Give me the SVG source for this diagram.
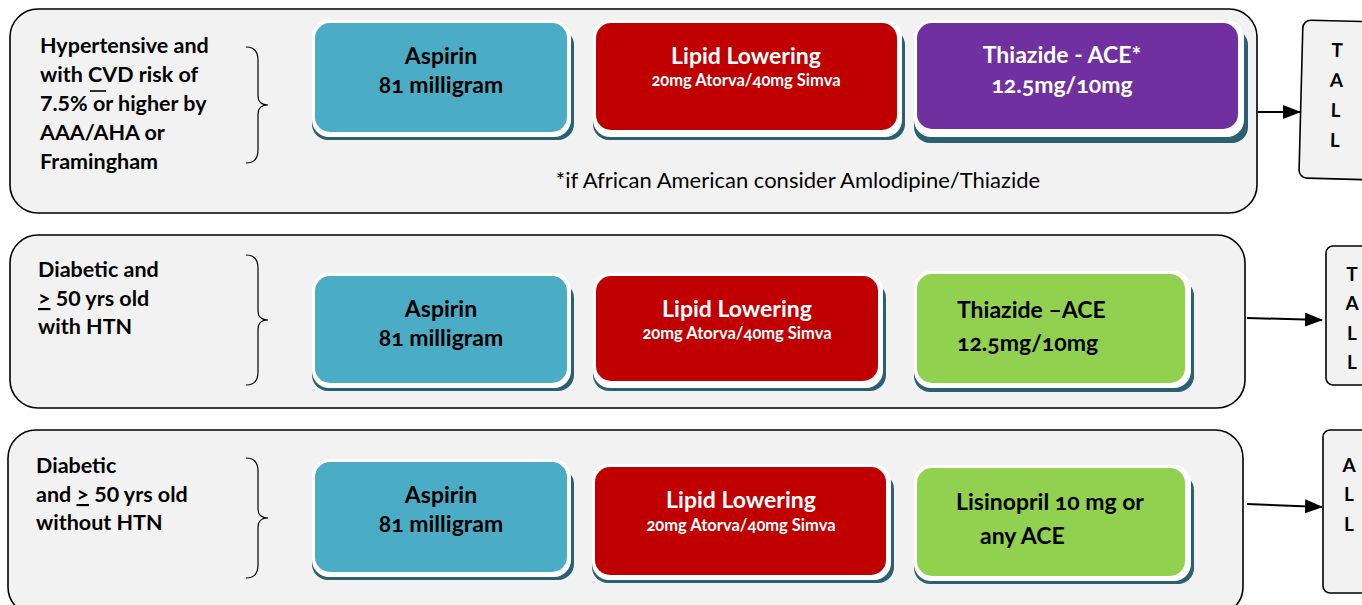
<svg xmlns="http://www.w3.org/2000/svg" width="1362" height="605" viewBox="0 0 1362 605">
<defs>
<style>
.panel{fill:#f2f2f2;stroke:#000;stroke-width:1.6}
.tall{fill:#f2f2f2;stroke:#000;stroke-width:1.6}
.sh{fill:#2b6072}
.wh{fill:#ffffff}
.asp{fill:#4bacc6}
.lip{fill:#c00000}
.pur{fill:#7030a0}
.grn{fill:#92d050}
.lbl{font-family:Lato,"Open Sans",sans-serif;font-weight:bold;font-size:21.5px;fill:#000}
.bt{font-family:Lato,"Open Sans",sans-serif;font-weight:bold;font-size:23px;font-variant-numeric:oldstyle-nums}
.sub{font-family:Lato,"Open Sans",sans-serif;font-weight:bold;font-size:16.5px;fill:#fff;font-variant-numeric:oldstyle-nums}
.wt{fill:#fff}
.bk{fill:#000}
.note{font-family:Lato,"Open Sans",sans-serif;font-size:22px;fill:#000}
.tl{font-family:Lato,"Open Sans",sans-serif;font-weight:bold;font-size:19px;fill:#000}
.brace{fill:none;stroke:#000;stroke-width:1.2}
.conn{fill:none;stroke:#000;stroke-width:2}
</style>
<marker id="ah2" markerWidth="18" markerHeight="14" refX="17" refY="7" orient="auto" markerUnits="userSpaceOnUse" viewBox="0 0 18 14">
<path d="M0,0 L18,7 L0,14 z" fill="#000"/>
</marker>
</defs>

<!-- Row 1 -->
<g id="row1">
<rect class="panel" x="10" y="9" width="1247" height="204" rx="28"/>
<g id="label1" class="lbl">
<text x="40" y="53">Hypertensive and</text>
<text x="40" y="82">with CVD risk of</text>
<text x="40" y="111">7.5% or higher by</text>
<text x="40" y="140">AAA/AHA or</text>
<text x="40" y="169">Framingham</text>
<line x1="90" y1="91" x2="106" y2="91" stroke="#000" stroke-width="1.6"/>
</g>
<path class="brace" d="M246,47 Q258,47 258,60 L258,96 Q258,105 268,105 Q258,105 258,114 L258,150 Q258,163 246,163"/>
<g id="asp1">
<rect class="sh" x="312" y="29" width="262" height="111" rx="16"/>
<rect class="wh" x="312" y="20" width="259" height="117" rx="17"/>
<rect class="asp" x="315" y="23" width="252" height="109" rx="15"/>
<text class="bt bk" x="441" y="64" text-anchor="middle">Aspirin</text>
<text class="bt bk" x="441" y="93" text-anchor="middle">81 milligram</text>
</g>
<g id="lip1">
<rect class="sh" x="593" y="29" width="312" height="111" rx="16"/>
<rect class="wh" x="593" y="20" width="309" height="117" rx="17"/>
<rect class="lip" x="596" y="23" width="301" height="107" rx="15"/>
<text class="bt wt" x="746" y="64" text-anchor="middle">Lipid Lowering</text>
<text class="sub" x="746" y="86" text-anchor="middle">20mg Atorva/40mg Simva</text>
</g>
<g id="thz1">
<rect class="sh" x="914" y="29" width="334" height="114" rx="16"/>
<rect class="wh" x="914" y="20" width="330" height="117" rx="17"/>
<rect class="pur" x="917" y="23" width="321" height="106" rx="15"/>
<text class="bt wt" x="1062" y="63" text-anchor="middle">Thiazide - ACE*</text>
<text class="bt wt" x="1062" y="93" text-anchor="middle">12.5mg/10mg</text>
</g>
<text class="note" x="798" y="188" text-anchor="middle">*if African American consider Amlodipine/Thiazide</text>
</g>

<!-- Row 2 -->
<g id="row2">
<rect class="panel" x="10" y="235" width="1235" height="173" rx="28"/>
<g id="label2" class="lbl">
<text x="38" y="277">Diabetic and</text>
<text x="38" y="306"><tspan text-decoration="underline">&gt;</tspan> 50 yrs old</text>
<text x="38" y="334">with HTN</text>
</g>
<path class="brace" d="M246,255 Q258,255 258,268 L258,311 Q258,320 268,320 Q258,320 258,329 L258,372 Q258,385 246,385"/>
<g id="asp2">
<rect class="sh" x="312" y="282" width="262" height="109" rx="16"/>
<rect class="wh" x="312" y="273" width="259" height="115" rx="17"/>
<rect class="asp" x="315" y="276" width="252" height="107" rx="15"/>
<text class="bt bk" x="441" y="317" text-anchor="middle">Aspirin</text>
<text class="bt bk" x="441" y="346" text-anchor="middle">81 milligram</text>
</g>
<g id="lip2">
<rect class="sh" x="593" y="282" width="293" height="109" rx="16"/>
<rect class="wh" x="593" y="273" width="290" height="115" rx="17"/>
<rect class="lip" x="596" y="276" width="282" height="105" rx="15"/>
<text class="bt wt" x="737" y="317" text-anchor="middle">Lipid Lowering</text>
<text class="sub" x="737" y="339" text-anchor="middle">20mg Atorva/40mg Simva</text>
</g>
<g id="thz2">
<rect class="sh" x="914" y="280" width="280" height="112" rx="16"/>
<rect class="wh" x="914" y="271" width="277" height="117" rx="17"/>
<rect class="grn" x="917" y="274" width="268" height="109" rx="15"/>
<text class="bt bk" x="957" y="318">Thiazide –ACE</text>
<text class="bt bk" x="957" y="351">12.5mg/10mg</text>
</g>
</g>

<!-- Row 3 -->
<g id="row3">
<rect class="panel" x="8" y="430" width="1235" height="185" rx="28"/>
<g id="label3" class="lbl">
<text x="36" y="473">Diabetic</text>
<text x="36" y="502">and <tspan text-decoration="underline">&gt;</tspan> 50 yrs old</text>
<text x="36" y="530">without HTN</text>
</g>
<path class="brace" d="M246,458 Q258,458 258,471 L258,509 Q258,518 268,518 Q258,518 258,527 L258,565 Q258,578 246,578"/>
<g id="asp3">
<rect class="sh" x="312" y="468" width="262" height="112" rx="16"/>
<rect class="wh" x="312" y="459" width="259" height="118" rx="17"/>
<rect class="asp" x="315" y="462" width="252" height="110" rx="15"/>
<text class="bt bk" x="441" y="503" text-anchor="middle">Aspirin</text>
<text class="bt bk" x="441" y="532" text-anchor="middle">81 milligram</text>
</g>
<g id="lip3">
<rect class="sh" x="592" y="473" width="302" height="110" rx="16"/>
<rect class="wh" x="592" y="464" width="299" height="116" rx="17"/>
<rect class="lip" x="595" y="467" width="291" height="108" rx="15"/>
<text class="bt wt" x="741" y="508" text-anchor="middle">Lipid Lowering</text>
<text class="sub" x="741" y="531" text-anchor="middle">20mg Atorva/40mg Simva</text>
</g>
<g id="thz3">
<rect class="sh" x="914" y="474" width="280" height="110" rx="16"/>
<rect class="wh" x="914" y="465" width="277" height="116" rx="17"/>
<rect class="grn" x="917" y="468" width="268" height="108" rx="15"/>
<text class="bt bk" x="956" y="510">Lisinopril 10 mg or</text>
<text class="bt bk" x="980" y="544">any ACE</text>
</g>
</g>

<!-- TALL boxes -->
<g id="tall1" transform="rotate(1.5 1303 20)">
<rect class="tall" x="1303" y="20" width="90" height="158" rx="8"/>
<text class="tl" x="1338" y="56" text-anchor="middle">T</text>
<text class="tl" x="1338" y="86" text-anchor="middle">A</text>
<text class="tl" x="1338" y="116" text-anchor="middle">L</text>
<text class="tl" x="1338" y="146" text-anchor="middle">L</text>
</g>
<g id="tall2">
<rect class="tall" x="1326" y="246" width="60" height="139" rx="7"/>
<text class="tl" x="1352" y="281" text-anchor="middle">T</text>
<text class="tl" x="1352" y="310" text-anchor="middle">A</text>
<text class="tl" x="1352" y="340" text-anchor="middle">L</text>
<text class="tl" x="1352" y="369" text-anchor="middle">L</text>
</g>
<g id="tall3">
<rect class="tall" x="1323" y="430" width="60" height="163" rx="7"/>
<text class="tl" x="1349" y="472" text-anchor="middle">A</text>
<text class="tl" x="1349" y="501" text-anchor="middle">L</text>
<text class="tl" x="1349" y="531" text-anchor="middle">L</text>
</g>

<!-- connectors -->
<g id="connectors">
<line class="conn" x1="1257" y1="112" x2="1300" y2="112" marker-end="url(#ah2)" stroke-width="2.5"/>
<line class="conn" x1="1247" y1="318" x2="1322" y2="320" marker-end="url(#ah2)"/>
<line class="conn" x1="1247" y1="504" x2="1322" y2="507" marker-end="url(#ah2)"/>
</g>
</svg>
